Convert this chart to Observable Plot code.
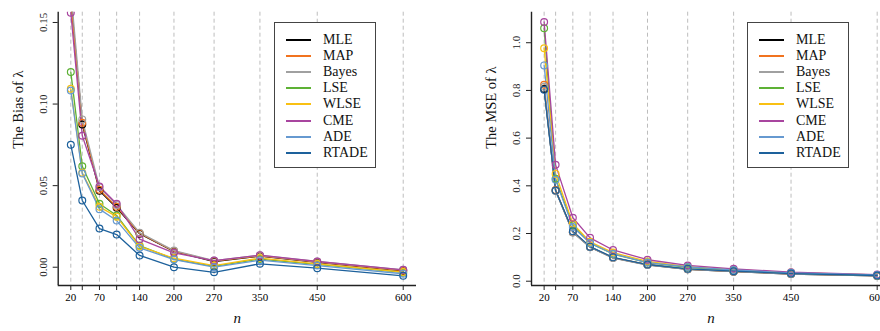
<!DOCTYPE html>
<html>
<head>
<meta charset="utf-8">
<script src="https://cdn.jsdelivr.net/npm/d3@7"></script>
<script src="https://cdn.jsdelivr.net/npm/@observablehq/plot@0.6"></script>
<style>
  html, body { margin: 0; padding: 0; background: #fff; width: 880px; height: 331px; overflow: hidden; }
  .panel { position: absolute; top: 0; width: 440px; height: 331px; overflow: hidden; }
  .panel svg { max-width: none !important; }
  .legend { position: absolute; top: 22px; width: 102px; height: 146px; border: 1.5px solid #444; box-sizing: border-box; background: #fff;
            font-family: "Liberation Serif", "DejaVu Serif", serif; font-size: 14px; color: #111; }
  .legend .row { position: absolute; left: 0; height: 16px; line-height: 16px; white-space: nowrap; }
  .legend .sw { position: absolute; left: 11px; top: 7px; width: 25px; height: 2px; }
  .legend .lab { position: absolute; left: 48px; top: 0; }
</style>
</head>
<body>
<div id="left" class="panel" style="left:0"></div>
<div id="right" class="panel" style="left:440px"></div>
<script>
// ---- data ----
const nValues = [20, 40, 70, 100, 140, 200, 270, 350, 450, 600];
const nLabeled = [20, 70, 140, 200, 270, 350, 450, 600];
const estimators = ["MLE", "MAP", "Bayes", "LSE", "WLSE", "CME", "ADE", "RTADE"];
const palette = ["#000000", "#F1731F", "#A0A0A0", "#5DB135", "#F9C013", "#A8459F", "#6699D0", "#1D619C"];

const biasMLE   = [0.165, 0.0875, 0.0468, 0.0364, 0.0205, 0.0097, 0.0035, 0.0068, 0.0030, -0.0022];
const biasMAP   = [0.163, 0.0885, 0.0475, 0.0370, 0.0208, 0.0099, 0.0038, 0.0070, 0.0032, -0.0020];
const biasBayes = [0.170, 0.0906, 0.0490, 0.0382, 0.0212, 0.0102, 0.0041, 0.0073, 0.0035, -0.0016];
const biasLSE   = [0.1196, 0.0619, 0.0389, 0.0317, 0.0133, 0.0050, 0.0005, 0.0050, 0.0018, -0.0032];
const biasWLSE  = [0.1094, 0.0579, 0.0370, 0.0310, 0.0128, 0.0055, 0.0010, 0.0056, 0.0020, -0.0030];
const biasCME   = [0.156, 0.0806, 0.0495, 0.0389, 0.0172, 0.0088, 0.0041, 0.0074, 0.0035, -0.0016];
const biasADE   = [0.1083, 0.0574, 0.0356, 0.0286, 0.0119, 0.0047, 0.0000, 0.0043, 0.0010, -0.0040];
const biasRTADE = [0.0750, 0.0409, 0.0237, 0.0200, 0.0072, 0.0000, -0.0031, 0.0021, -0.0006, -0.0053];

const mseMLE   = [0.806, 0.380, 0.205, 0.143, 0.098, 0.069, 0.050, 0.040, 0.030, 0.022];
const mseMAP   = [0.824, 0.382, 0.206, 0.144, 0.099, 0.070, 0.051, 0.041, 0.031, 0.023];
const mseBayes = [0.815, 0.378, 0.204, 0.142, 0.097, 0.068, 0.050, 0.040, 0.030, 0.022];
const mseLSE   = [1.061, 0.430, 0.235, 0.160, 0.114, 0.078, 0.058, 0.046, 0.034, 0.025];
const mseWLSE  = [0.977, 0.450, 0.241, 0.165, 0.120, 0.083, 0.061, 0.048, 0.036, 0.026];
const mseCME   = [1.087, 0.488, 0.266, 0.182, 0.131, 0.090, 0.066, 0.052, 0.038, 0.028];
const mseADE   = [0.905, 0.425, 0.227, 0.160, 0.115, 0.078, 0.060, 0.047, 0.035, 0.026];
const mseRTADE = [0.803, 0.380, 0.210, 0.145, 0.100, 0.070, 0.052, 0.042, 0.032, 0.024];

const biasTicks = [0.00, 0.05, 0.10, 0.15];
const mseTicks = [0.0, 0.2, 0.4, 0.6, 0.8, 1.0];

const biasSeries = [biasMLE, biasMAP, biasBayes, biasLSE, biasWLSE, biasCME, biasADE, biasRTADE];
const mseSeries = [mseMLE, mseMAP, mseBayes, mseLSE, mseWLSE, mseCME, mseADE, mseRTADE];

function toRows(series) {
  const rows = [];
  series.forEach((vals, i) => vals.forEach((v, j) => rows.push({est: estimators[i], n: nValues[j], v})));
  return rows;
}

const FONT = '"Liberation Serif", "DejaVu Serif", serif';

function panel({series, ticks, fmt, yDomain, title, width, marginLeft}) {
  const rows = toRows(series);
  const xDomain = [-2, 623.2];
  return Plot.plot({
    width, height: 331,
    marginLeft, marginRight: 24, marginTop: 11.7, marginBottom: 46,
    style: {fontFamily: FONT, background: "#fff", overflow: "visible", maxWidth: "none"},
    x: {domain: xDomain},
    y: {domain: yDomain},
    color: {domain: estimators, range: palette},
    marks: [
      Plot.ruleX(nValues, {stroke: "#bdbdbd", strokeWidth: 1, strokeDasharray: "4,3"}),
      Plot.axisX({ticks: nValues, tickSize: 5, tickPadding: 3, fontSize: 11, stroke: "#222",
                  tickFormat: d => nLabeled.includes(d) ? String(d) : "", label: null}),
      Plot.axisY({ticks, tickSize: 5, tickFormat: () => "", label: null, stroke: "#222"}),
      Plot.text(ticks, {x: xDomain[0], y: d => d, text: d => fmt(d), rotate: -90, dx: -15,
                        fontSize: 11, fill: "#222", textAnchor: "middle"}),
      Plot.ruleX([xDomain[0]], {stroke: "#222", strokeWidth: 1.4}),
      Plot.ruleY([yDomain[0]], {stroke: "#222", strokeWidth: 1.4}),
      Plot.line(rows, {x: "n", y: "v", z: "est", stroke: "est", strokeWidth: 1.3, clip: true}),
      Plot.dot(rows, {x: "n", y: "v", stroke: "est", r: 3.4, strokeWidth: 1.2, fill: "none", clip: true}),
      Plot.text([title], {frameAnchor: "left", rotate: -90, dx: -40, fontSize: 14.5, fill: "#111"}),
      Plot.text(["n"], {frameAnchor: "bottom", dy: 37, fontSize: 15, fontStyle: "italic", fill: "#111"})
    ]
  });
}

function legend(container, left) {
  const box = document.createElement("div");
  box.className = "legend";
  box.style.left = left + "px";
  estimators.forEach((e, i) => {
    const row = document.createElement("div");
    row.className = "row";
    row.style.top = (8.5 + i * 16.2) + "px";
    row.style.width = "100%";
    const sw = document.createElement("div");
    sw.className = "sw";
    sw.style.background = palette[i];
    const lab = document.createElement("span");
    lab.className = "lab";
    lab.textContent = e;
    row.appendChild(sw); row.appendChild(lab);
    box.appendChild(row);
  });
  container.appendChild(box);
}

const leftEl = document.getElementById("left");
leftEl.appendChild(panel({series: biasSeries, ticks: biasTicks, fmt: d => d.toFixed(2),
  yDomain: [-0.0112, 0.1563], title: "The Bias of λ", width: 440, marginLeft: 57.7}));
legend(leftEl, 274);

const rightEl = document.getElementById("right");
rightEl.appendChild(panel({series: mseSeries, ticks: mseTicks, fmt: d => d.toFixed(1),
  yDomain: [-0.018, 1.128], title: "The MSE of λ", width: 474, marginLeft: 91}));
legend(rightEl, 307);
</script>
</body>
</html>
